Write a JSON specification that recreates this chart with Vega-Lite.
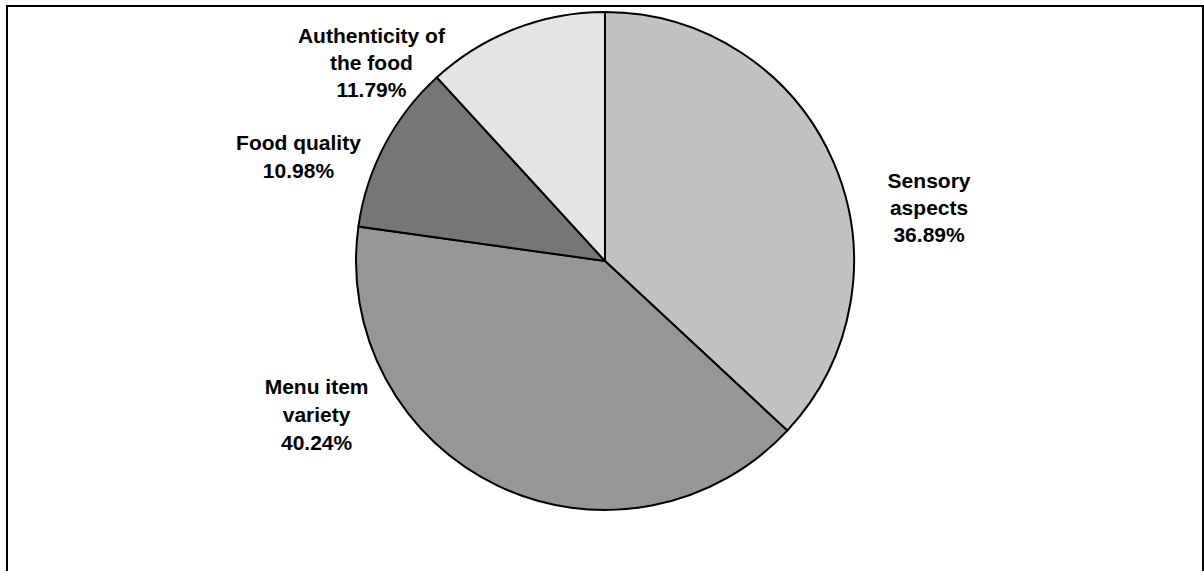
{
  "$schema": "https://vega.github.io/schema/vega-lite/v6.json",
  "width": 1196,
  "height": 575,
  "autosize": {"type": "none"},
  "padding": {"left": 7, "top": 6, "right": 1, "bottom": 0},
  "background": "white",
  "config": {"view": {"stroke": null}},
  "data": {"values": [
    {"category": "Sensory aspects", "value": 36.89, "order": 1, "label": "Sensory\naspects\n36.89%"},
    {"category": "Menu item variety", "value": 40.24, "order": 2, "label": "Menu item\nvariety\n40.24%"},
    {"category": "Food quality", "value": 10.98, "order": 3, "label": "Food quality\n10.98%"},
    {"category": "Authenticity of the food", "value": 11.79, "order": 4, "label": "Authenticity of\nthe food\n11.79%"}
  ]},
  "transform": [
    {"stack": "value", "groupby": [], "sort": [{"field": "order", "order": "ascending"}], "as": ["v0", "v1"]},
    {"calculate": "(datum.v0 + datum.v1) / 2", "as": "mid"}
  ],
  "layer": [
    {
      "transform": [{"filter": "datum.order == 1"}],
      "mark": {"type": "rect", "x": 0, "y": 0, "x2": "width", "y2": "height", "fill": null, "fillOpacity": 0, "stroke": "black", "strokeWidth": 2},
      "encoding": {}
    },
    {
      "mark": {"type": "arc", "outerRadius": 249, "y": 255, "stroke": "black", "strokeWidth": 2},
      "encoding": {
        "theta": {"field": "v0", "type": "quantitative", "scale": {"domain": [0, 99.9], "zero": true, "nice": false}},
        "theta2": {"field": "v1"},
        "color": {"field": "category", "type": "nominal", "legend": null,
          "scale": {"domain": ["Sensory aspects", "Menu item variety", "Food quality", "Authenticity of the food"],
                    "range": ["#c2c2c2", "#979797", "#767676", "#e4e4e4"]}}
      }
    },
    {
      "transform": [{"filter": "datum.order == 1"}],
      "mark": {"type": "text", "radius": 300, "y": 255, "dx": 49, "dy": 41, "align": "center", "baseline": "middle", "lineBreak": "\n", "lineHeight": 27, "font": "Liberation Sans", "fontWeight": "bold", "fontSize": 21, "color": "black"},
      "encoding": {"theta": {"field": "mid", "type": "quantitative"}, "text": {"field": "label"}}
    },
    {
      "transform": [{"filter": "datum.order == 2"}],
      "mark": {"type": "text", "radius": 250, "y": 255, "dx": -181, "dy": -99, "align": "center", "baseline": "middle", "lineBreak": "\n", "lineHeight": 28, "font": "Liberation Sans", "fontWeight": "bold", "fontSize": 21, "color": "black"},
      "encoding": {"theta": {"field": "mid", "type": "quantitative"}, "text": {"field": "label"}}
    },
    {
      "transform": [{"filter": "datum.order == 3"}],
      "mark": {"type": "text", "radius": 300, "y": 255, "dx": -41, "dy": 23, "align": "center", "baseline": "middle", "lineBreak": "\n", "lineHeight": 28, "font": "Liberation Sans", "fontWeight": "bold", "fontSize": 21, "color": "black"},
      "encoding": {"theta": {"field": "mid", "type": "quantitative"}, "text": {"field": "label"}}
    },
    {
      "transform": [{"filter": "datum.order == 4"}],
      "mark": {"type": "text", "radius": 250, "y": 255, "dx": -143, "dy": 9, "align": "center", "baseline": "middle", "lineBreak": "\n", "lineHeight": 27, "font": "Liberation Sans", "fontWeight": "bold", "fontSize": 21, "color": "black"},
      "encoding": {"theta": {"field": "mid", "type": "quantitative"}, "text": {"field": "label"}}
    }
  ]
}
